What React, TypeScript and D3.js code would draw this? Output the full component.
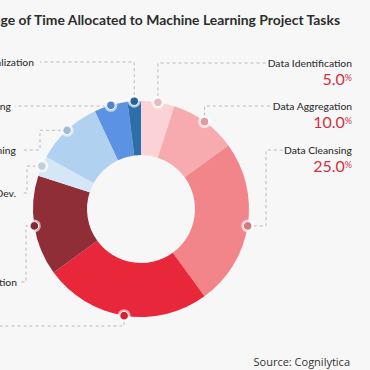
import React from 'react'
import * as d3 from 'd3'

const tasks = [
  'Data Identification',
  'Data Aggregation',
  'Data Cleansing',
  'Data Labeling',
  'Data Augmentation',
  'Algorithm Dev.',
  'Model Training',
  'ML Model Tuning',
  'Operationalization',
]
const shares = [5, 10, 25, 25, 15, 3, 10, 5, 2]
const colors = ['#fbd3d6', '#f7abaf', '#f2858a', '#e8273a', '#8f2e36', '#d5e6f6', '#b1d1f1', '#5b93e2', '#2c6ea9']

// leader line / label placement, one per task
const labelLayout = [
  { side: 'right', lineY: 63, lineEnd: 270, textX: 352 },
  { side: 'right', lineY: 106, lineEnd: 272, textX: 352 },
  { side: 'right', lineY: 150, elbowX: 266, lineEnd: 283, textX: 352 },
  { side: 'left', lineY: 326, lineEnd: -10, textX: -20 },
  { side: 'left', lineY: 282, elbowX: 26, lineEnd: 21, textX: 17 },
  { side: 'left', lineY: 193, elbowX: 27, lineEnd: 21, textX: 16 },
  { side: 'left', lineY: 150, elbowX: 40, lineEnd: 21, textX: 16 },
  { side: 'left', lineY: 106, lineEnd: 15, textX: 11 },
  { side: 'left', lineY: 62, lineEnd: 40, textX: 34 },
]

const W = 370
const H = 370
const CX = 141
const CY = 209
const R_OUT = 108
const R_IN = 54

const App = () => {
  const data = tasks.map((t, i) => ({ task: t, share: shares[i], color: colors[i], layout: labelLayout[i] }))

  const pie = d3.pie<any>().sort(null).value(d => d.share).startAngle(0).endAngle(2 * Math.PI)
  const arcs = pie(data)
  const arc = d3.arc<any>().innerRadius(R_IN).outerRadius(R_OUT)
  const edge = d3.arc<any>().innerRadius(R_OUT).outerRadius(R_OUT)
  const line = d3.line()

  return (
    <div style={{ position: 'fixed', left: 0, top: 0 }}>
      <svg width={W} height={H} style={{ display: 'block', background: '#f7f7f8' }}>
        <text x={340} y={25} textAnchor="end" fontFamily="Lato, sans-serif" fontWeight={700} fontSize={13.9} fill="#2d2d2d">
          Percentage of Time Allocated to Machine Learning Project Tasks
        </text>

        <g transform={`translate(${CX},${CY})`}>
          {arcs.map((a, i) => (
            <path key={i} d={arc(a) as string} fill={a.data.color} />
          ))}
        </g>

        {arcs.map((a, i) => {
          const [ex, ey] = edge.centroid(a)
          const dx = CX + ex
          const dy = CY + ey
          const L = a.data.layout
          const pts: [number, number][] = L.elbowX !== undefined
            ? [[dx, dy], [L.elbowX, dy], [L.elbowX, L.lineY], [L.lineEnd, L.lineY]]
            : [[dx, dy], [dx, L.lineY], [L.lineEnd, L.lineY]]
          const right = L.side === 'right'
          return (
            <g key={i}>
              <path d={line(pts) as string} fill="none" stroke="#b9b9b9" strokeWidth={1} strokeDasharray="3,3" />
              <circle cx={dx} cy={dy} r={6.5} fill="#ffffff" fillOpacity={0.6} />
              <circle cx={dx} cy={dy} r={4.3} fill={d3.color(a.data.color)!.darker(0.3).toString()} stroke="#ffffff" strokeWidth={1} />
              <text x={L.textX} y={L.lineY + 3.7} textAnchor="end" fontFamily="Lato, sans-serif" fontWeight={500} fontSize={10.3} fill="#333">
                {a.data.task}
              </text>
              <text
                x={right ? L.textX : L.textX - 110}
                y={right ? L.lineY + 22 : L.lineY + 4}
                textAnchor="end"
                fontFamily="Lato, sans-serif"
                fontSize={16}
                fill="#d0313f"
              >
                {a.data.share.toFixed(1)}
                <tspan fontSize={9} dy={-4}>%</tspan>
              </text>
            </g>
          )
        })}

        <text x={350} y={366} textAnchor="end" fontFamily="'Open Sans', sans-serif" fontSize={11} fill="#333">
          Source: Cognilytica
        </text>
      </svg>
    </div>
  )
}

export default App
